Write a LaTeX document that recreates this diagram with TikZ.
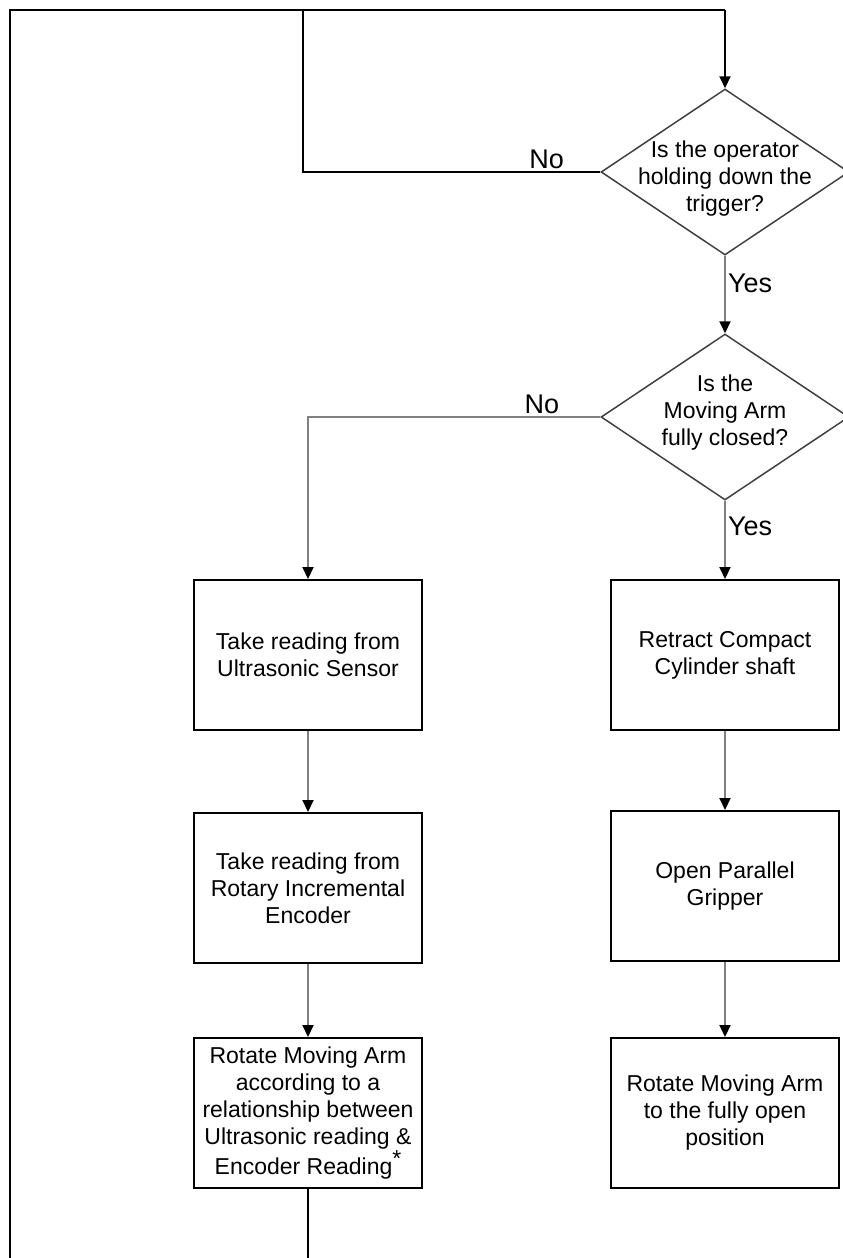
\documentclass[tikz,border=0pt]{standalone}
\usepackage{fontspec}
\setmainfont{Liberation Sans}
\usetikzlibrary{shapes.geometric,arrows.meta}
\begin{document}
\begin{tikzpicture}[x=1pt,y=-1pt,
  every node/.style={font=\fontsize{23}{27}\selectfont},
  stepbox/.style={draw,line width=2pt,minimum width=228pt,minimum height=150pt,align=center,inner sep=0pt},
  decision/.style={draw=black!75,line width=1.5pt,shape=diamond,minimum width=248pt,minimum height=166pt,inner sep=0pt},
  qtext/.style={align=center,inner sep=0pt},
  answer/.style={font=\fontsize{27}{30}\selectfont,inner sep=2pt},
  wire/.style={line width=2pt},
  flow/.style={line width=2pt,draw=black!50,-{Triangle[length=12pt,width=11pt,color=black]}}]
\useasboundingbox (0,0) rectangle (843,1258);
% decisions
\node[decision] (trig) at (725,172) {};
\node[qtext] (trigq) at ([yshift=-7pt]trig) {Is the operator\\ holding down the\\ trigger?};
\node[decision] (arm) at (725,417) {};
\node[qtext] (armq) at ([yshift=4pt]arm) {Is the\\ Moving Arm\\ fully closed?};
% left column
\node[stepbox] (sensor) at (308,655) {Take reading from\\ Ultrasonic Sensor};
\node[stepbox] (encoder) at (308,888) {Take reading from\\ Rotary Incremental\\ Encoder};
\node[stepbox] (rotrel) at (308,1113) {Rotate Moving Arm\\ according to a\\ relationship between\\ Ultrasonic reading \&\\ Encoder Reading\raisebox{.35em}{*}};
% right column
\node[stepbox] (retract) at (725,655) {Retract Compact\\ Cylinder shaft};
\node[stepbox] (gripper) at (725,886) {Open Parallel\\ Gripper};
\node[stepbox] (rotopen) at (725,1113) {Rotate Moving Arm\\ to the fully open\\ position};
% loop ends
\coordinate (tl) at (10,10);
\coordinate (tr) at (725,10);
\coordinate (bl) at (10,1258);
\coordinate (nojoin) at (303,10);
\draw[wire] (bl) -- (tl) -- (tr);
\draw[flow,draw=black] (tr) -- (trig.north);
\draw[wire] (trig.west) -- node[answer,above,pos=0.18] {No} (trig.west -| nojoin) -- (nojoin);
\draw[flow] (trig.south) -- node[answer,right,pos=0.36] {Yes} (arm.north);
\draw[flow] (arm.west) -- node[answer,above,pos=0.2] {No} (arm.west -| sensor.north) -- (sensor.north);
\draw[flow] (arm.south) -- node[answer,right,pos=0.33] {Yes} (retract.north);
\draw[flow] (sensor) -- (encoder);
\draw[flow] (encoder) -- (rotrel);
\draw[flow] (retract) -- (gripper);
\draw[flow] (gripper) -- (rotopen);
\draw[wire] (rotrel.south) -- (rotrel.south |- bl);
\end{tikzpicture}
\end{document}
